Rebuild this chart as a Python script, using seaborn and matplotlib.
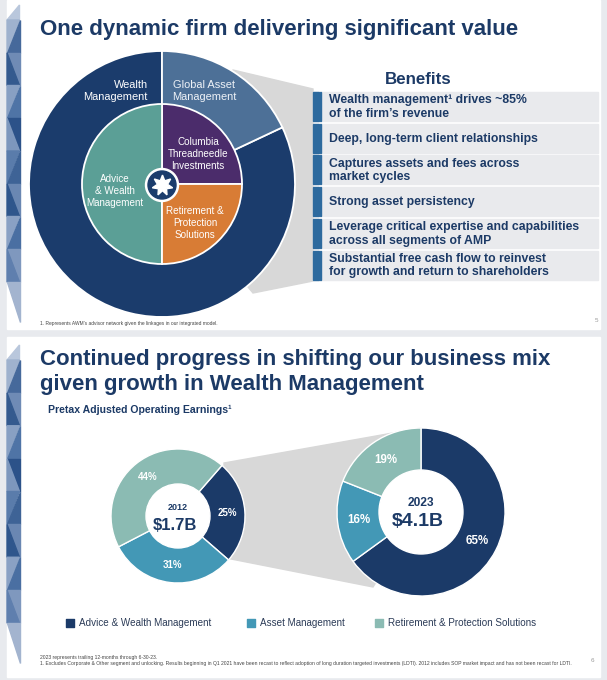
import numpy as np
import matplotlib
matplotlib.use("Agg")
import matplotlib.pyplot as plt
from matplotlib.patches import Polygon, Rectangle, Circle
import seaborn as sns

sns.set_theme(style="white")
plt.rcParams['font.family'] = ['Liberation Sans', 'DejaVu Sans']

# ---- slide 5 data ----
firm_labels = ["Wealth\nManagement", "Global Asset\nManagement"]
firm_shares = [82, 18]
unit_labels = ["Columbia\nThreadneedle\nInvestments", "Advice\n& Wealth\nManagement",
               "Retirement &\nProtection\nSolutions"]
unit_shares = [25, 50, 25]
benefits = [
    "Wealth management\u00b9 drives ~85%\nof the firm\u2019s revenue",
    "Deep, long-term client relationships",
    "Captures assets and fees across\nmarket cycles",
    "Strong asset persistency",
    "Leverage critical expertise and capabilities\nacross all segments of AMP",
    "Substantial free cash flow to reinvest\nfor growth and return to shareholders",
]

# ---- slide 6 data ----
segments = ["Advice & Wealth Management", "Asset Management",
            "Retirement & Protection Solutions"]
share_2012 = [25, 31, 44]
share_2023 = [65, 16, 19]
years = ["2012", "2023"]
totals = ["$1.7B", "$4.1B"]

navy = "#1c3a66"
seg_colors = sns.color_palette(["#1b3a68", "#4398b6", "#8bbbb3"])
firm_colors = ["#1b3c6c", "#4d7097"]
unit_colors = ["#4b2c6b", "#5b9f96", "#d87c35"]
funnel = "#d8d8d8"

H = 680


def Y(y):
    return H - y


fig = plt.figure(figsize=(6.07, 6.8), dpi=100)
fig.patch.set_facecolor("#e8eaee")
ax = fig.add_axes([0, 0, 1, 1])

# slide panels
ax.add_patch(Rectangle((7, Y(329)), 593, 329, color="white", zorder=0))
ax.add_patch(Rectangle((7, Y(677)), 593, 340, color="white", zorder=0))


def strip(y_top, y_bot):
    # faceted blue band on the left edge of each slide
    xl, xr = 7, 19.5
    shades = ["#9fb2ce", "#46699b", "#6f8bb5", "#345a8e", "#88a0c3", "#4f74a6",
              "#2c5289", "#7d97bd", "#5a7cab", "#3e6396", "#6a87b2", "#2f568c",
              "#8aa1c4", "#4a6fa2", "#7f98be", "#5f7fae"]
    ax.add_patch(Polygon([(xl, Y(y_top + 15)), (xr, Y(y_top)), (xr, Y(y_top + 15))],
                         color="#b9c7dc", zorder=1))
    ys = np.linspace(y_top + 15, y_bot - 40, 9)
    k = 0
    for i in range(len(ys) - 1):
        a, b = ys[i], ys[i + 1]
        if i % 2 == 0:
            t1 = [(xl, Y(a)), (xr, Y(a)), (xl, Y(b))]
            t2 = [(xr, Y(a)), (xr, Y(b)), (xl, Y(b))]
        else:
            t1 = [(xl, Y(a)), (xr, Y(a)), (xr, Y(b))]
            t2 = [(xl, Y(a)), (xr, Y(b)), (xl, Y(b))]
        ax.add_patch(Polygon(t1, color=shades[k % len(shades)], zorder=1))
        ax.add_patch(Polygon(t2, color=shades[(k + 1) % len(shades)], zorder=1))
        k += 2
    ax.add_patch(Polygon([(xl, Y(y_bot - 40)), (xr, Y(y_bot - 40)), (xr, Y(y_bot))],
                         color="#a3b4cf", zorder=1))


strip(5, 322)
strip(345, 663)

# ================= slide 5 =================
ax.text(40, Y(30), "One dynamic firm delivering significant value", fontsize=16,
        fontweight="bold", color=navy, va="center", ha="left", zorder=5)

cx, cy = 162, 184
ax.add_patch(Polygon([(cx, Y(cy)), (233, Y(70)), (313, Y(89)), (313, Y(281)), (253, Y(293))],
                     color=funnel, zorder=1))
ax.pie(firm_shares, colors=firm_colors, startangle=90, counterclock=True,
       center=(cx, Y(cy)), radius=133, frame=True,
       wedgeprops=dict(edgecolor="white", linewidth=1.3, zorder=2))
ax.pie(unit_shares, colors=unit_colors, startangle=0, counterclock=True,
       center=(cx, Y(cy)), radius=80, frame=True,
       wedgeprops=dict(edgecolor="white", linewidth=1.3, zorder=3))
ax.add_patch(Circle((cx, Y(cy + 1)), 16.5, color="white", zorder=4))
ax.add_patch(Circle((cx, Y(cy + 1)), 14, color="#1b3c6c", zorder=4))
ax.plot(cx, Y(cy + 1), marker=(7, 1, 0), markersize=15, color="white", zorder=5)

ax.text(148, Y(91), firm_labels[0], ha="right", va="center", fontsize=7.9,
        color="white", linespacing=1.3, zorder=5)
ax.text(204, Y(91), firm_labels[1], ha="center", va="center", fontsize=7.9,
        color="#eef2f7", linespacing=1.3, zorder=5)
ax.text(198, Y(154), unit_labels[0], ha="center", va="center", fontsize=7.1,
        color="white", linespacing=1.3, zorder=5)
ax.text(115, Y(191), unit_labels[1], ha="center", va="center", fontsize=7.1,
        color="white", linespacing=1.3, zorder=5)
ax.text(195, Y(223), unit_labels[2], ha="center", va="center", fontsize=7.1,
        color="white", linespacing=1.3, zorder=5)

ax.text(418, Y(80), "Benefits", ha="center", va="center", fontsize=12.2,
        fontweight="bold", color=navy, zorder=5)
row_h, row_step, row_top = 29, 31.7, 92
for i, txt in enumerate(benefits):
    top = row_top + i * row_step
    ax.add_patch(Rectangle((313, Y(top + row_h)), 285, row_h, color="#e9eaed", zorder=2))
    ax.add_patch(Rectangle((313, Y(top + row_h)), 5.5, row_h, color="#2d6a9e", zorder=3))
    ax.add_patch(Rectangle((319.5, Y(top + row_h)), 1.4, row_h, color="#2d6a9e", zorder=3))
    ax.text(329, Y(top + row_h / 2 + 0.5), txt, ha="left", va="center", fontsize=8.8,
            fontweight="bold", color=navy, linespacing=1.2, zorder=5)

ax.text(40, Y(324), "1. Represents AWM\u2019s advisor network given the linkages in our integrated model.",
        fontsize=3.5, color="#444444", va="center", zorder=5)
ax.text(596, Y(320), "5", fontsize=4.5, color="#999999", va="center", ha="center", zorder=5)

# ================= slide 6 =================
ax.text(40, Y(372), "Continued progress in shifting our business mix\ngiven growth in Wealth Management",
        fontsize=16, fontweight="bold", color=navy, va="center", ha="left",
        linespacing=1.2, zorder=5)
ax.text(48, Y(410), "Pretax Adjusted Operating Earnings\u00b9", fontsize=7.6,
        fontweight="bold", color=navy, va="center", ha="left", zorder=5)

lx, ly, lR, lr = 178, 516, 67, 32
rx, ry, rR, rr = 421, 512, 84, 42
ax.add_patch(Polygon([(224, Y(463)), (rx, Y(428)), (rx, Y(ry)), (373, Y(587)), (226, Y(558))],
                     color=funnel, zorder=1))

donuts = [
    (share_2012, lx, ly, lR, lr, 49, 7, 6.5, 12),
    (share_2023, rx, ry, rR, rr, 90, 8.3, 8.6, 14),
]
for k, (vals, x, y, R, r, start, pfs, yfs, tfs) in enumerate(donuts):
    _, _, pcts = ax.pie(vals, colors=seg_colors, startangle=start, counterclock=False,
                        center=(x, Y(y)), radius=R, frame=True,
                        autopct=lambda p: f"{p:.0f}%", pctdistance=(R + r) / 2 / R,
                        wedgeprops=dict(edgecolor="white", linewidth=1, zorder=2),
                        textprops=dict(color="white", fontweight="bold", fontsize=pfs, zorder=5))
    ax.add_patch(Circle((x, Y(y)), r, color="white", zorder=3))
    ax.text(x, Y(y - 9), years[k], ha="center", va="center", fontsize=yfs,
            fontweight="bold", color=navy, zorder=5)
    ax.text(x - 3, Y(y + 9), totals[k], ha="center", va="center", fontsize=tfs,
            fontweight="bold", color=navy, zorder=5)

leg_x = [70, 251, 379]
for name, col, x in zip(segments, seg_colors, leg_x):
    ax.scatter([x], [Y(623)], marker="s", s=30, color=col, zorder=5)
    ax.text(x + 9, Y(623), name, ha="left", va="center", fontsize=7.1,
            color="#2b3b57", zorder=5)

ax.text(40, Y(657), "2023 represents trailing 12-months through 6-30-23.", fontsize=3.6,
        color="#444444", va="center", zorder=5)
ax.text(40, Y(663.5), "1. Excludes Corporate & Other segment and unlocking. Results beginning in Q1 2021 "
        "have been recast to reflect adoption of long duration targeted investments (LDTI). "
        "2012 includes SOP market impact and has not been recast for LDTI.",
        fontsize=3.65, color="#444444", va="center", zorder=5)
ax.text(592, Y(660), "6", fontsize=4.5, color="#999999", va="center", ha="center", zorder=5)

ax.set_xlim(0, 607)
ax.set_ylim(0, 680)
ax.set_aspect("equal")
ax.axis("off")
fig.savefig("out.png", dpi=100, facecolor=fig.get_facecolor())
